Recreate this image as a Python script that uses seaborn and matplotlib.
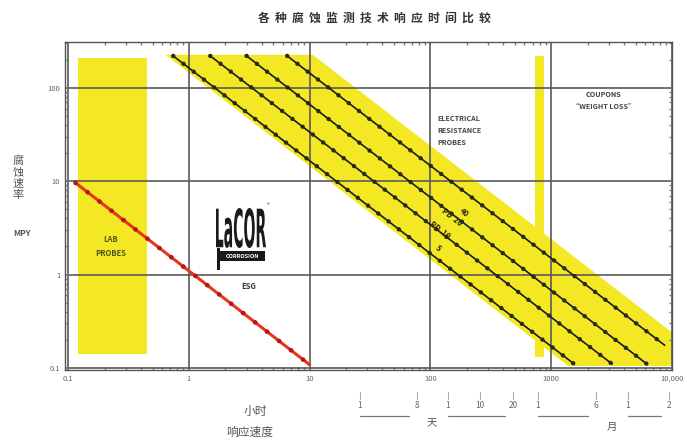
import numpy as np
import pandas as pd
import matplotlib
matplotlib.use("Agg")
import matplotlib.pyplot as plt
import seaborn as sns
from matplotlib.lines import Line2D
from matplotlib.textpath import TextPath
from matplotlib.patches import PathPatch, Rectangle
from matplotlib.font_manager import FontProperties
from matplotlib.transforms import Affine2D

# ---------------- data ----------------
title = "各种腐蚀监测技术响应时间比较"
x_ticks = [0.1, 1, 10, 100, 1000, 10000]
x_tick_labels = ["0.1", "1", "10", "100", "1000", "10,000"]
y_ticks = [0.1, 1, 10, 100]
y_tick_labels = ["0.1", "1", "10", "100"]

# electrical resistance probe response lines (start / end points)
er_names = ["ER-a", "ER-b", "ER-c", "ER-d"]
er_x_start = [0.74, 1.5, 3.0, 6.5]
er_y_start = [220, 220, 220, 220]
er_x_end = [1550, 3200, 6200, 8700]
er_y_end = [0.11, 0.11, 0.11, 0.175]
er_labels = ["40", "PD  20", "PD  10", "5"]
er_label_x = [190, 150, 120, 115]
er_label_y = [4.6, 4.1, 3.0, 1.9]

# LPR (LaCOR) response line
lpr_x = [0.115, 10]
lpr_y = [9.6, 0.108]

# yellow band behind the ER lines (corner points)
band_x = [0.64, 10.6, 10000, 10000, 1380]
band_y = [226, 226, 0.24, 0.105, 0.105]

# lab probes block and coupon bar
lab_x = [0.121, 0.45]
lab_y = [0.14, 210]
coupon_x = [730, 870]
coupon_y = [0.13, 220]

W, H = 687, 444
YEL = "#F3E823"

sns.set_theme(style="ticks")
plt.rcParams["font.family"] = ["Noto Sans CJK SC", "DejaVu Sans"]

fig = plt.figure(figsize=(W / 100, H / 100), dpi=100)
ax = fig.add_axes([65 / W, 1 - 370 / H, (672 - 65) / W, (370 - 42) / H])
ax.set_xscale("log")
ax.set_yscale("log")
ax.set_xlim(0.094, 10000)
ax.set_ylim(0.095, 310)

# fills
ax.fill(band_x, band_y, color=YEL, lw=0, zorder=0.3)
ax.fill_between(lab_x, lab_y[0], lab_y[1], color=YEL, lw=0, zorder=0.3)
ax.fill_between(coupon_x, coupon_y[0], coupon_y[1], color=YEL, lw=0, zorder=0.3)

# ER lines
rows = []
for n, xs, ys, xe, ye in zip(er_names, er_x_start, er_y_start, er_x_end, er_y_end):
    rows.append((n, xs, ys))
    rows.append((n, xe, ye))
df_er = pd.DataFrame(rows, columns=["series", "x", "y"])
sns.lineplot(data=df_er, x="x", y="y", hue="series", palette=["#1b1b1b"] * 4,
             legend=False, sort=False, estimator=None, lw=1.2, ax=ax, zorder=3)
for n in er_names:
    d = df_er[df_er.series == n]
    ax.plot(d.x, d.y, color="#2a2a10", lw=3.2, ls=(0, (0.01, 2.9)),
            dash_capstyle="round", zorder=3.5)

# LPR line
df_lpr = pd.DataFrame({"x": lpr_x, "y": lpr_y})
sns.lineplot(data=df_lpr, x="x", y="y", color="#E5361F", lw=2.2, sort=False,
             estimator=None, ax=ax, zorder=3)
ax.plot(lpr_x, lpr_y, color="#B4161A", lw=3.4, ls=(0, (0.01, 3.2)),
        dash_capstyle="round", zorder=3.5)

# grid & axes
ax.set_xticks(x_ticks)
ax.set_xticklabels(x_tick_labels)
ax.set_yticks(y_ticks)
ax.set_yticklabels(y_tick_labels)
ax.grid(True, which="major", color="#5a5a5a", lw=1.2)
ax.set_axisbelow(True)
ax.tick_params(which="both", direction="in", top=True, right=True,
               labelsize=5.5, labelcolor="#666666", color="#777777")
ax.tick_params(which="major", length=4)
ax.tick_params(which="minor", length=2.5)
for s in ax.spines.values():
    s.set_color("#555555")
    s.set_linewidth(1.0)
ax.set_xlabel("")
ax.set_ylabel("")

# in-plot texts
ax.text(0.223, 2.0, "LAB\nPROBES", ha="center", va="center", fontsize=5.5,
        color="#555522", fontweight="bold", linespacing=1.6, zorder=4)
ax.text(113, 35, "ELECTRICAL\nRESISTANCE\nPROBES", ha="left", va="center",
        fontsize=5.2, color="#444444", fontweight="bold", linespacing=1.9, zorder=4)
ax.text(2700, 73, "COUPONS\n\u201cWEIGHT LOSS\u201d", ha="center", va="center",
        fontsize=5.2, color="#444444", fontweight="bold", linespacing=1.9, zorder=4)
ax.text(3.1, 0.74, "ESG", ha="center", va="center", fontsize=5.5,
        color="#333333", fontweight="bold", zorder=4)
for t, lx, ly in zip(er_labels, er_label_x, er_label_y):
    ax.text(lx, ly, t, ha="center", va="center", fontsize=5.5, color="#2a2a10",
            fontweight="bold", rotation=-37.7, rotation_mode="anchor", zorder=4)

# condensed LaCOR logo (display pixel coordinates)
tp = TextPath((0, 0), "LaCOR", size=1, prop=FontProperties(family="DejaVu Sans", weight="bold"))
ext = tp.get_extents()
logo_w, logo_h = 50.0, 40.0
sx = logo_w / ext.width
sy = logo_h / ext.height
tr = Affine2D().translate(-ext.x0, -ext.y0).scale(sx, sy).translate(216, H - 248)
fig.add_artist(PathPatch(tp, transform=tr, fc="#1a1a1a", ec="none", zorder=5))
fig.add_artist(Rectangle((218, H - 261), 47, 10, transform=Affine2D(), fc="#1a1a1a",
                         ec="none", zorder=5))
fig.add_artist(Rectangle((217, H - 270), 3, 22, transform=Affine2D(), fc="#1a1a1a",
                         ec="none", zorder=5))
fig.text(242 / W, 1 - 256 / H, "CORROSION", ha="center", va="center", fontsize=4,
         color="white", fontweight="bold", zorder=6)
fig.text(268 / W, 1 - 206 / H, "®", ha="center", va="center", fontsize=4,
         color="#1a1a1a", zorder=6)


def fx(px):
    return px / W


def fy(py):
    return 1 - py / H


# title and axis titles
fig.text(fx(374), fy(18), "  ".join(title), ha="center", va="center",
         fontsize=8.5, color="#333333", fontweight="bold")
fig.text(fx(18), fy(178), "\n".join("腐蚀速率"), ha="center", va="center",
         fontsize=8, color="#555555", linespacing=1.15)
fig.text(fx(22), fy(234), "MPY", ha="center", va="center", fontsize=6,
         color="#555555", fontweight="bold")
fig.text(fx(255), fy(411), "小时", ha="center", va="center", fontsize=8.5,
         color="#555555")
fig.text(fx(250), fy(432), "响应速度", ha="center", va="center", fontsize=8.5,
         color="#555555")

# time scale groups under the x axis
groups = [
    [(360, "1"), (417, "8")],
    [(448, "1"), (480, "10"), (513, "20")],
    [(538, "1"), (596, "6")],
    [(628, "1"), (669, "2")],
]
for g in groups:
    for px, t in g:
        fig.text(fx(px), fy(405), t, ha="center", va="center", fontsize=6,
                 color="#666666")
        fig.add_artist(Line2D([fx(px), fx(px)], [fy(392), fy(399)],
                              color="#aaaaaa", lw=0.8))
    fig.add_artist(Line2D([fx(g[0][0]), fx(g[-1][0] - 8)], [fy(416), fy(416)],
                          color="#777777", lw=0.9))
fig.text(fx(432), fy(423), "天", ha="center", va="center", fontsize=7.5,
         color="#555555")
fig.text(fx(612), fy(427), "月", ha="center", va="center", fontsize=7.5,
         color="#555555")

fig.savefig("out.png", dpi=100)
